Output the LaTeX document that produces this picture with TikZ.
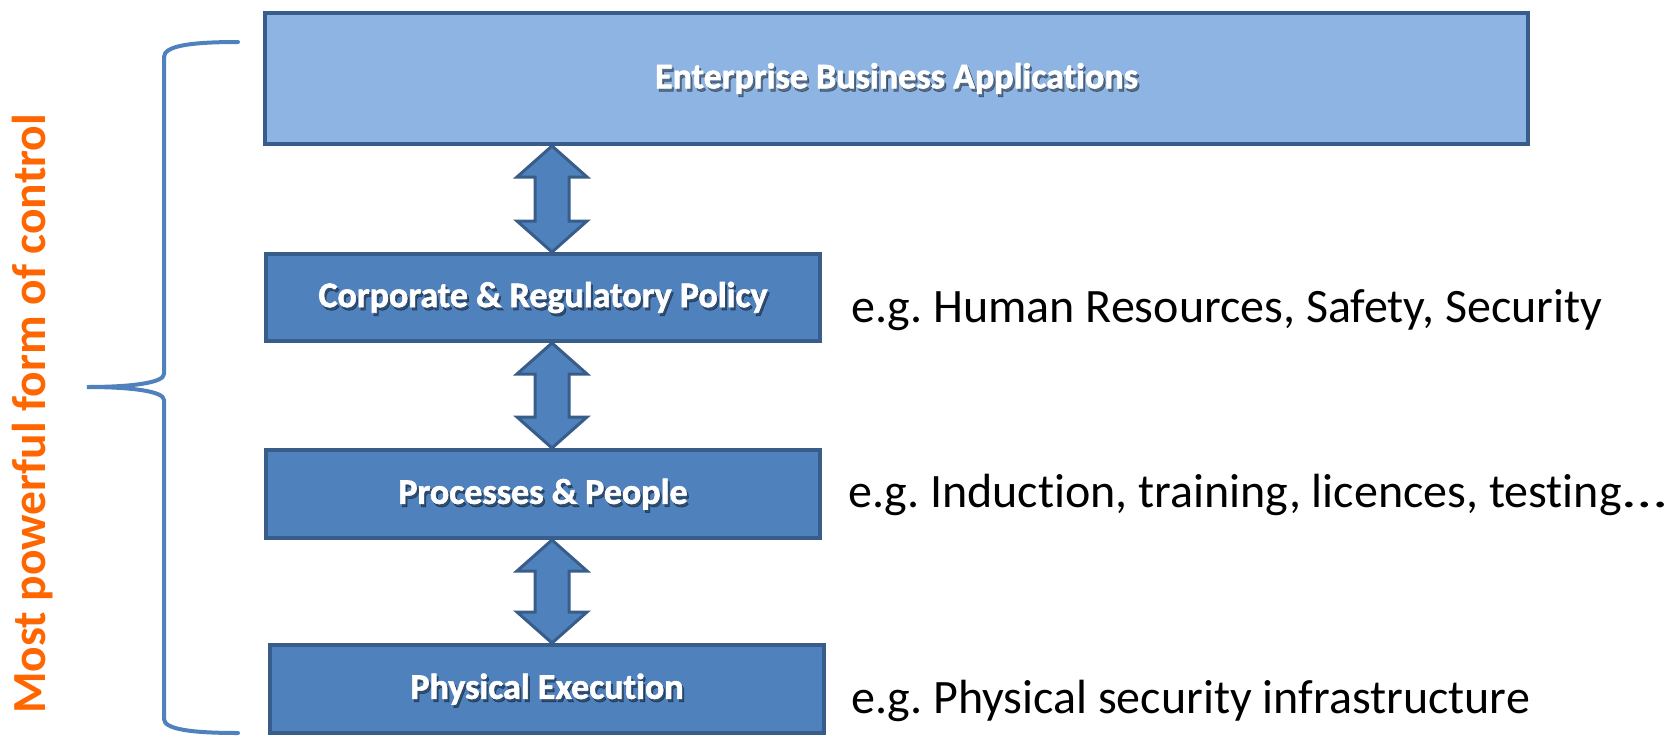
\documentclass[tikz,border=0pt]{standalone}
\usepackage{fontspec}
\usepackage{graphicx}
\setmainfont{Carlito}[Ligatures=NoCommon]
\newfontfamily\labelfont{Carlito}[Ligatures=NoCommon, BoldFeatures={FakeBold=1.6}]
\usetikzlibrary{calc}
\frenchspacing
\definecolor{lightfill}{HTML}{8EB4E3}
\definecolor{midfill}{HTML}{4F81BD}
\definecolor{edgeblue}{HTML}{385D8A}
\definecolor{braceblue}{HTML}{4F81BD}
\definecolor{orangetxt}{HTML}{FF6600}
\tikzset{
  layerbox/.style={draw=edgeblue, line width=4pt, fill=midfill, inner sep=0pt},
  toplayer/.style={layerbox, fill=lightfill},
  boxlabel/.style={text=white, font=\labelfont\fontsize{36}{40}\selectfont\bfseries, inner sep=0pt},
  boxshadow/.style={text=black, opacity=0.4, font=\labelfont\fontsize{36}{40}\selectfont\bfseries, inner sep=0pt},
  exampletext/.style={text=black, font=\fontsize{48}{52}\selectfont, inner sep=0pt, anchor=base west},
  dblarr/.style={draw=edgeblue, fill=midfill, line width=3pt, line join=miter},
  bracepath/.style={draw=braceblue, line width=4pt, line cap=round},
}
\newcommand\twoway[2]{%
  \draw[dblarr] (#1) -- ($(#1)+(35,31)$) -- ($(#1)+(17,31)$) -- ($(#2)+(17,-31)$) -- ($(#2)+(35,-31)$) -- (#2)
    -- ($(#2)+(-35,-31)$) -- ($(#2)+(-17,-31)$) -- ($(#1)+(-17,31)$) -- ($(#1)+(-35,31)$) -- cycle;}
\begin{document}
\begin{tikzpicture}[x=1pt, y=-1pt]
\useasboundingbox (0,0) rectangle (1669,736);
% boxes
\node[toplayer, minimum width=1263pt, minimum height=131pt] (b1) at (896.5,78.5) {};
\node[layerbox, minimum width=554pt, minimum height=87pt] (b2) at (543,297.5) {};
\node[layerbox, minimum width=554pt, minimum height=88pt] (b3) at (543,494) {};
\node[layerbox, minimum width=554pt, minimum height=88pt] (b4) at (547,689) {};
% labels with shadow
\node[boxshadow] (s1) at ($(b1)+(2,3)$) {Enterprise Business Applications};
\node[boxlabel] (l1) at (b1) {Enterprise Business Applications};
\node[boxshadow] (s2) at ($(b2)+(2,3)$) {Corporate \& Regulatory Policy};
\node[boxlabel] (l2) at (b2) {Corporate \& Regulatory Policy};
\node[boxshadow] (s3) at ($(b3)+(2,3)$) {Processes \& People};
\node[boxlabel] (l3) at (b3) {Processes \& People};
\node[boxshadow] (s4) at ($(b4)+(2,3)$) {Physical Execution};
\node[boxlabel] (l4) at (b4) {Physical Execution};
% arrows
\coordinate (ax) at (552,0);
\coordinate (t1) at (b1.south -| ax);
\coordinate (e1) at (b2.north -| ax);
\coordinate (t2) at (b2.south -| ax);
\coordinate (e2) at (b3.north -| ax);
\coordinate (t3) at (b3.south -| ax);
\coordinate (e3) at (b4.north -| ax);
\twoway{t1}{e1}
\twoway{t2}{e2}
\twoway{t3}{e3}
% example texts
\node[exampletext] (x1) at (851,322) {e.g. Human Resources, Safety, Security};
\node[exampletext] (x2) at (848,507) {e.g. Induction, training, licences, testing\kern2pt\scalebox{1.3}[1]{…}};
\node[exampletext] (x3) at (851,713) {e.g. Physical security infrastructure};
% brace
\coordinate (bt) at (238,42);
\coordinate (bm) at (87,387);
\coordinate (bb) at (238,733);
\draw[bracepath] (bt) .. controls (190,42) and (164,46) .. (164,57) -- (164,374)
  .. controls (164,383) and (130,387) .. (bm)
  .. controls (130,387) and (164,391) .. (164,400) -- (164,719)
  .. controls (164,729) and (190,733) .. (bb);
% vertical caption
\node[text=orangetxt, font=\fontsize{47.5}{50}\selectfont\bfseries, rotate=90, anchor=base, inner sep=0pt] (cap) at (45,414) {Most powerful form of control};
\end{tikzpicture}
\end{document}
